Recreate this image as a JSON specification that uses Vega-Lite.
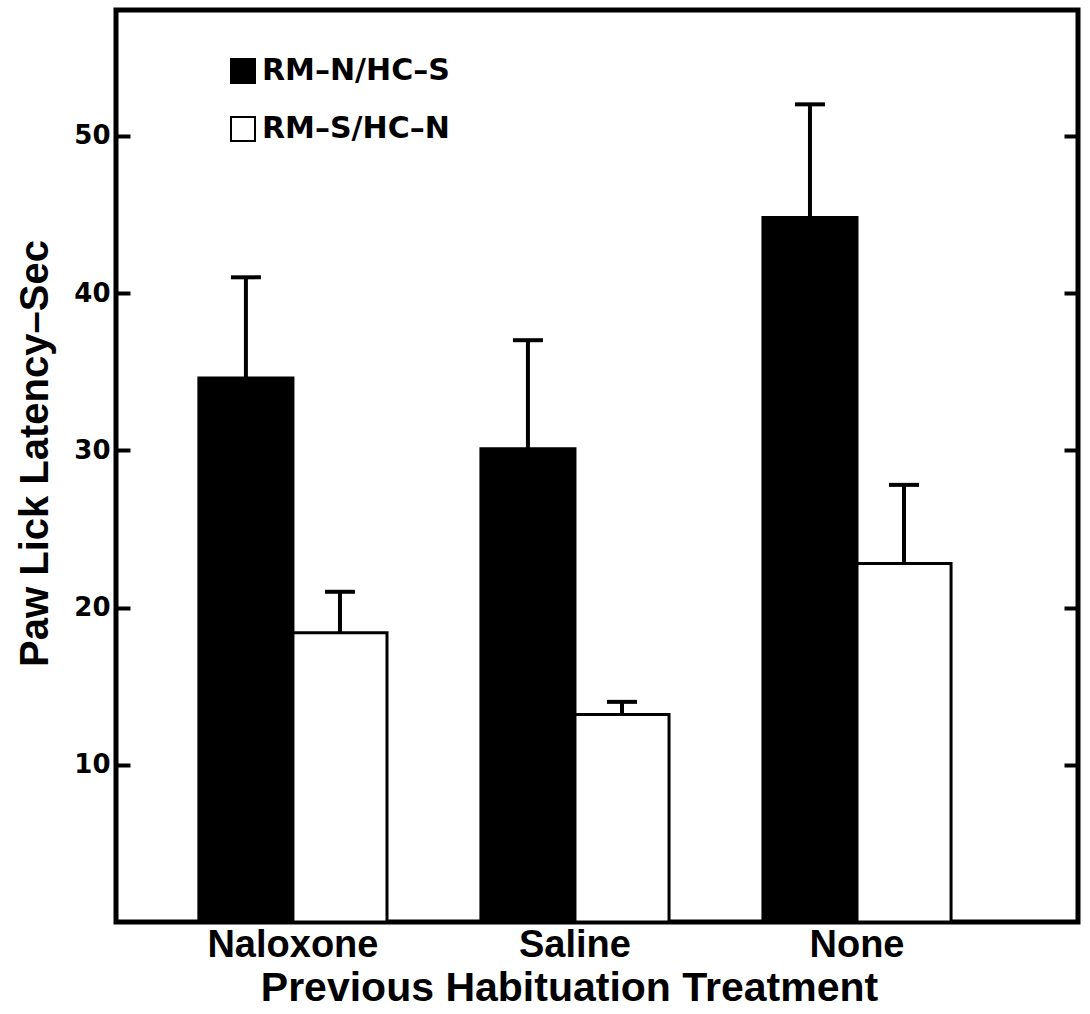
{
  "$schema": "https://vega.github.io/schema/vega-lite/v6.json",
  "width": 962,
  "height": 912,
  "autosize": {"type": "none"},
  "padding": {"left": 116, "top": 10, "right": 12, "bottom": 92},
  "background": "white",
  "config": {
    "view": {"stroke": "black", "strokeWidth": 5},
    "axis": {"grid": false}
  },
  "data": {
    "values": [
      {"treatment": "Naloxone", "group": "RM–N/HC–S", "value": 34.6, "err": 41.0},
      {"treatment": "Naloxone", "group": "RM–S/HC–N", "value": 18.4, "err": 21.0},
      {"treatment": "Saline", "group": "RM–N/HC–S", "value": 30.1, "err": 37.0},
      {"treatment": "Saline", "group": "RM–S/HC–N", "value": 13.2, "err": 14.0},
      {"treatment": "None", "group": "RM–N/HC–S", "value": 44.8, "err": 52.0},
      {"treatment": "None", "group": "RM–S/HC–N", "value": 22.8, "err": 27.8}
    ]
  },
  "encoding": {
    "x": {
      "field": "treatment",
      "type": "nominal",
      "sort": ["Naloxone", "Saline", "None"],
      "scale": {"paddingInner": 0.333, "paddingOuter": 0.372, "align": 0.395},
      "axis": {
        "labelAngle": 0,
        "ticks": false,
        "domain": false,
        "labelFont": "Liberation Sans",
        "labelFontWeight": "bold",
        "labelFontSize": 38,
        "labelColor": "black",
        "labelPadding": 4,
        "title": "Previous Habituation Treatment",
        "titleFont": "Liberation Sans",
        "titleFontWeight": "bold",
        "titleFontSize": 41,
        "titleColor": "black",
        "titlePadding": 4,
        "titleX": 453
      }
    },
    "xOffset": {
      "field": "group",
      "type": "nominal",
      "sort": ["RM–N/HC–S", "RM–S/HC–N"],
      "scale": {"paddingInner": 0, "paddingOuter": 0}
    }
  },
  "layer": [
    {
      "mark": {"type": "bar", "stroke": "black", "strokeWidth": 3},
      "encoding": {
        "y": {
          "field": "value",
          "type": "quantitative",
          "scale": {"domain": [0, 58], "nice": false},
          "axis": {
            "orient": "left",
            "values": [10, 20, 30, 40, 50],
            "domain": false,
            "tickSize": -14,
            "tickWidth": 4,
            "tickColor": "black",
            "labelFont": "DejaVu Sans",
            "labelFontWeight": "bold",
            "labelFontSize": 26,
            "labelColor": "black",
            "labelPadding": 20,
            "title": "Paw Lick Latency–Sec",
            "titleFont": "Liberation Sans",
            "titleFontWeight": "bold",
            "titleFontSize": 40,
            "titleColor": "black",
            "titlePadding": 18,
            "titleY": 443
          }
        },
        "fill": {
          "field": "group",
          "type": "nominal",
          "sort": ["RM–N/HC–S", "RM–S/HC–N"],
          "scale": {"range": ["black", "white"]},
          "legend": {
            "orient": "none",
            "legendX": 112,
            "legendY": 46,
            "title": null,
            "symbolType": "square",
            "symbolSize": 576,
            "symbolStrokeColor": "black",
            "symbolStrokeWidth": 2,
            "symbolOpacity": 1,
            "labelFont": "DejaVu Sans",
            "labelFontWeight": "bold",
            "labelFontSize": 30,
            "labelColor": "black",
            "labelLimit": 0,
            "labelOffset": 4,
            "rowPadding": 26
          }
        }
      }
    },
    {
      "mark": {"type": "rule", "strokeWidth": 4, "color": "black"},
      "encoding": {
        "y": {
          "field": "value",
          "type": "quantitative",
          "axis": {
            "orient": "right",
            "values": [10, 20, 30, 40, 50],
            "domain": false,
            "labels": false,
            "tickSize": -14,
            "tickWidth": 4,
            "tickColor": "black",
            "title": null
          }
        },
        "y2": {"field": "err"}
      }
    },
    {
      "mark": {"type": "tick", "orient": "horizontal", "size": 30, "thickness": 4, "color": "black", "opacity": 1},
      "encoding": {
        "y": {"field": "err", "type": "quantitative", "axis": null}
      }
    }
  ],
  "resolve": {"axis": {"y": "independent"}}
}
